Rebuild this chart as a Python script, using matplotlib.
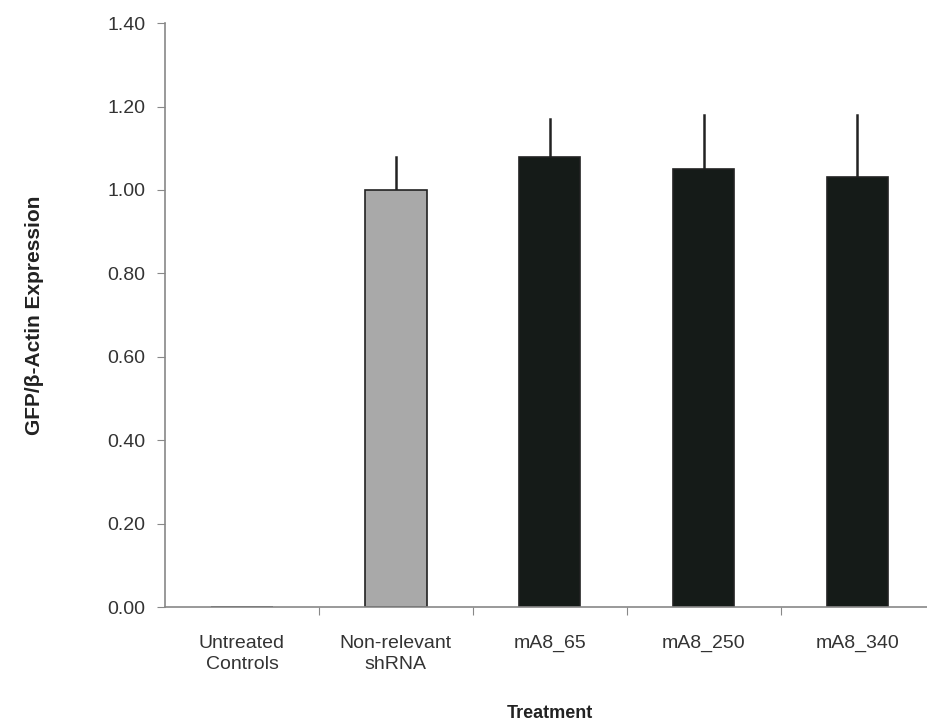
import matplotlib.pyplot as plt
import numpy as np

plt.rcParams['font.family'] = ['Liberation Sans', 'DejaVu Sans']

labels = ["Untreated\nControls", "Non-relevant\nshRNA", "mA8_65", "mA8_250", "mA8_340"]
values = [0.0, 1.00, 1.08, 1.05, 1.03]
errors = [0.0, 0.08, 0.09, 0.13, 0.15]
colors = ["#a9a9a9", "#a9a9a9", "#151b18", "#151b18", "#151b18"]

fig = plt.figure(figsize=(9.27, 7.21), dpi=100)
ax = fig.add_axes([0.178, 0.158, 0.83, 0.81])

x = np.arange(len(labels))
ax.bar(x, values, width=0.4, color=colors, edgecolor="#222222", linewidth=1.2, zorder=2)
for xi, v, e in zip(x, values, errors):
    if e > 0:
        ax.plot([xi, xi], [v, v + e], color="#222222", lw=1.8, zorder=1)

ax.set_ylim(0, 1.40)
ax.set_xlim(-0.5, 4.5)
ax.set_yticks(np.arange(0, 1.41, 0.2))
ax.set_yticklabels(["%.2f" % t for t in np.arange(0, 1.41, 0.2)], fontsize=14, color="#333333")

ax.set_xticks(np.arange(0.5, 4.5, 1.0))
ax.set_xticklabels([])
ax.set_xticks(x, minor=True)
ax.set_xticklabels(labels, minor=True, fontsize=14, color="#333333", linespacing=1.3)
ax.tick_params(axis='x', which='minor', length=0, pad=20)
ax.tick_params(axis='x', which='major', length=6, color="#888888", direction='out')
ax.tick_params(axis='y', length=6, color="#888888", pad=8)

for s in ['top', 'right']:
    ax.spines[s].set_visible(False)
for s in ['left', 'bottom']:
    ax.spines[s].set_color("#888888")
    ax.spines[s].set_linewidth(1.2)

ax.set_xlabel("Treatment", fontsize=13, fontweight='bold', color="#222222", labelpad=23)
ax.set_ylabel("GFP/β-Actin Expression", fontsize=15, fontweight='bold', color="#222222", labelpad=46)

fig.savefig("out.png", dpi=100)
